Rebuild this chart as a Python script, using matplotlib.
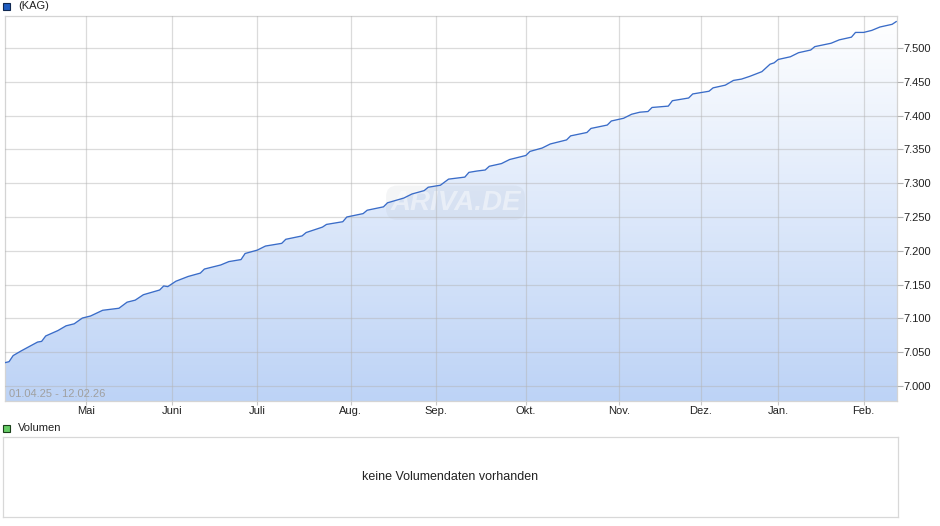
import numpy as np
import pandas as pd
import matplotlib
matplotlib.use('Agg')
import matplotlib.pyplot as plt
from matplotlib.patches import Rectangle
from matplotlib.colors import LinearSegmentedColormap

plt.rcParams['font.family'] = ['Liberation Sans', 'DejaVu Sans']

# fund price (KAG)
dates = ['2025-04-01', '2025-04-02', '2025-04-03', '2025-04-07', '2025-04-11', '2025-04-14',
         '2025-04-15', '2025-04-22', '2025-04-24', '2025-04-28', '2025-04-30', '2025-05-05',
         '2025-05-08', '2025-05-14', '2025-05-16', '2025-05-20', '2025-05-22', '2025-05-28',
         '2025-05-29', '2025-05-30', '2025-06-03', '2025-06-06', '2025-06-11', '2025-06-12',
         '2025-06-18', '2025-06-20', '2025-06-25', '2025-06-26', '2025-07-01', '2025-07-03',
         '2025-07-09', '2025-07-10', '2025-07-16', '2025-07-17', '2025-07-23', '2025-07-24',
         '2025-07-30', '2025-07-31', '2025-08-06', '2025-08-07', '2025-08-13', '2025-08-14',
         '2025-08-20', '2025-08-22', '2025-08-27', '2025-08-28', '2025-09-02', '2025-09-04',
         '2025-09-10', '2025-09-11', '2025-09-15', '2025-09-17', '2025-09-18', '2025-09-23',
         '2025-09-25', '2025-10-01', '2025-10-02', '2025-10-07', '2025-10-09', '2025-10-15',
         '2025-10-16', '2025-10-22', '2025-10-23', '2025-10-29', '2025-10-30', '2025-11-04',
         '2025-11-06', '2025-11-10', '2025-11-12', '2025-11-13', '2025-11-19', '2025-11-20',
         '2025-11-26', '2025-11-27', '2025-12-03', '2025-12-04', '2025-12-09', '2025-12-11',
         '2025-12-15', '2025-12-17', '2025-12-22', '2025-12-29', '2025-12-30', '2026-01-02',
         '2026-01-07', '2026-01-09', '2026-01-14', '2026-01-15', '2026-01-21', '2026-01-23',
         '2026-01-28', '2026-01-29', '2026-02-02', '2026-02-04', '2026-02-06', '2026-02-11',
         '2026-02-12']
prices = [7.0345, 7.036, 7.045, 7.052, 7.065, 7.066,
          7.074, 7.082, 7.089, 7.092, 7.1005, 7.1035,
          7.112, 7.115, 7.124, 7.127, 7.135, 7.142,
          7.148, 7.147, 7.155, 7.162, 7.167, 7.173,
          7.179, 7.184, 7.187, 7.196, 7.201, 7.207,
          7.211, 7.217, 7.222, 7.227, 7.235, 7.239,
          7.243, 7.250, 7.255, 7.260, 7.265, 7.271,
          7.278, 7.284, 7.289, 7.294, 7.297, 7.306,
          7.309, 7.316, 7.318, 7.3195, 7.325, 7.329,
          7.335, 7.341, 7.347, 7.352, 7.358, 7.364,
          7.370, 7.375, 7.381, 7.386, 7.392, 7.396,
          7.402, 7.405, 7.406, 7.412, 7.414, 7.422,
          7.426, 7.432, 7.436, 7.441, 7.445, 7.452,
          7.454, 7.458, 7.465, 7.476, 7.478, 7.483,
          7.487, 7.493, 7.497, 7.502, 7.507, 7.512,
          7.516, 7.523, 7.523, 7.526, 7.531, 7.535,
          7.539]

# exchange holidays (no prices)
holidays = ['2025-04-18', '2025-04-21', '2025-05-01', '2025-12-24', '2025-12-25',
            '2025-12-26', '2025-12-31', '2026-01-01']
month_labels = ['Mai', 'Juni', 'Juli', 'Aug.', 'Sep.', 'Okt.', 'Nov.', 'Dez.', 'Jan.', 'Feb.']
ytick_vals = [7.000, 7.050, 7.100, 7.150, 7.200, 7.250, 7.300, 7.350, 7.400, 7.450, 7.500]
range_text = '01.04.25 - 12.02.26'

# x axis runs on trading days
tdays = pd.bdate_range('2025-04-01', '2026-02-12')
tdays = tdays[~tdays.isin(pd.to_datetime(holidays))]
xs = tdays.get_indexer(pd.to_datetime(dates))
ys = np.array(prices)
month_start = pd.Series(np.arange(len(tdays)), index=tdays).groupby(tdays.to_period('M')).first()
month_pos = month_start.values[1:]

W, H = 940, 526
fig = plt.figure(figsize=(W / 100, H / 100), dpi=100)

ax = fig.add_axes([5 / W, 1 - 401 / H, 892 / W, 385 / H])
xmax = len(tdays) - 1 + 0.2
ymin, ymax = 6.9778, 7.5473
ax.set_xlim(0, xmax)
ax.set_ylim(ymin, ymax)

# gradient fill under the line
cmap = LinearSegmentedColormap.from_list('fill', ['#bdd3f6', '#ffffff'])
grad = np.linspace(0, 1, 256).reshape(-1, 1)
img = ax.imshow(grad, cmap=cmap, origin='lower', aspect='auto',
                extent=[0, xmax, ymin, ymax], zorder=1)
poly = ax.fill_between(np.append(xs, xmax), np.append(ys, ys[-1]), ymin,
                       facecolor='none', edgecolor='none')
img.set_clip_path(poly.get_paths()[0], transform=ax.transData)

ax.set_xticks(month_pos)
ax.set_xticklabels(month_labels)
ax.set_yticks(ytick_vals)
ax.set_yticklabels(['{:.3f}'.format(v) for v in ytick_vals])
ax.yaxis.tick_right()
ax.tick_params(axis='y', length=4, width=0.8, color='#b0b0b0', pad=0.5,
               labelsize=8, labelcolor='#222222')
ax.tick_params(axis='x', length=3, width=0.8, color='#c8c8c8', pad=0.5,
               labelsize=8, labelcolor='#222222')
ax.grid(True, color='#b4b4b4', alpha=0.48, linewidth=0.9, zorder=2)
ax.set_axisbelow(False)
for sp in ax.spines.values():
    sp.set_color('#d4d4d4')
    sp.set_linewidth(0.9)

ax.plot(xs, ys, color='#3a6cc8', linewidth=0.95, zorder=3)

ax.text(0.004, 0.005, range_text, transform=ax.transAxes, fontsize=8,
        color='#a0a0a0', ha='left', va='bottom', zorder=4)

# faint watermark
ax.text(0.505, 0.515, 'ARIVA.DE', transform=ax.transAxes, fontsize=20,
        fontweight='bold', fontstyle='italic', color='white', alpha=0.45,
        ha='center', va='center', zorder=2.5,
        bbox=dict(boxstyle='round,pad=0.15,rounding_size=0.4', facecolor='#9aa4b0',
                  edgecolor='none', alpha=0.1))

# legend squares
fig.add_artist(Rectangle((3 / W, 1 - 10 / H), 7 / W, 7 / H, transform=fig.transFigure,
                         facecolor='#1f5cc0', edgecolor='#102850', linewidth=0.8))
fig.text(18 / W, 1 - 6 / H, '(KAG)', fontsize=8, color='#222222', va='center')
fig.add_artist(Rectangle((3 / W, 1 - 432 / H), 7 / W, 7 / H, transform=fig.transFigure,
                         facecolor='#66cc66', edgecolor='#1a401a', linewidth=0.8))
fig.text(18 / W, 1 - 428 / H, 'Volumen', fontsize=8, color='#222222', va='center')

# empty volume panel
vax = fig.add_axes([3 / W, 1 - 517 / H, 895 / W, 80 / H])
vax.set_xticks([])
vax.set_yticks([])
for sp in vax.spines.values():
    sp.set_color('#d8d8d8')
    sp.set_linewidth(0.9)
vax.text(0.5, 0.5, 'keine Volumendaten vorhanden', transform=vax.transAxes,
         fontsize=9, color='#222222', ha='center', va='center')

fig.savefig('out.png', dpi=100)
